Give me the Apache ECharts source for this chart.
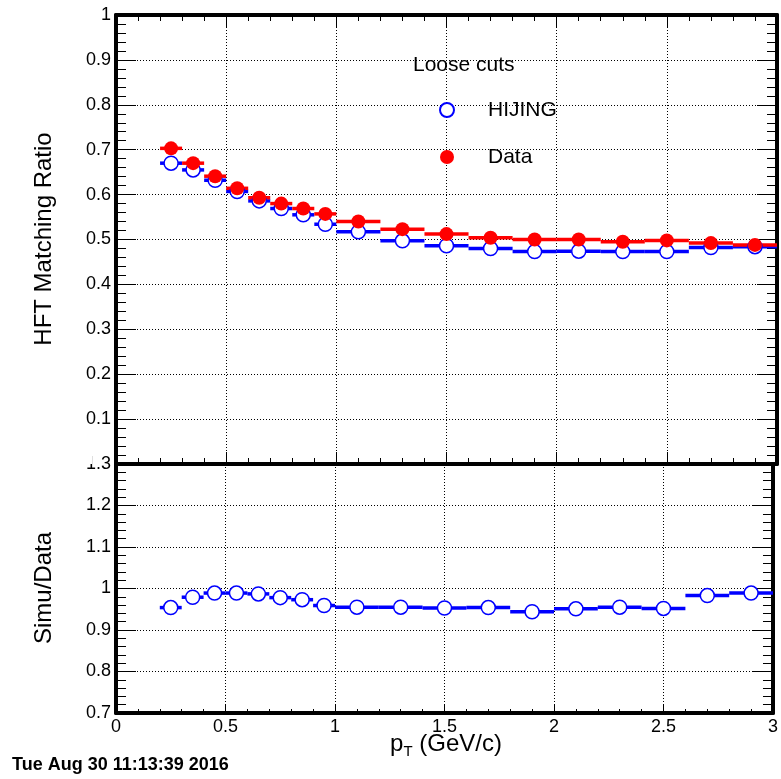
<!DOCTYPE html>
<html>
<head>
<meta charset="utf-8">
<script src="https://cdn.jsdelivr.net/npm/echarts@6/dist/echarts.min.js"></script>
<style>
html,body{margin:0;padding:0;background:#fff;}
#c{width:781px;height:779px;}
</style>
</head>
<body>
<div id="c"></div>
<script>
// ---- data ----
const binLo = [0.2,0.3,0.4,0.5,0.6,0.7,0.8,0.9,1.0,1.2,1.4,1.6,1.8,2.0,2.2,2.4,2.6,2.8];
const binHi = [0.3,0.4,0.5,0.6,0.7,0.8,0.9,1.0,1.2,1.4,1.6,1.8,2.0,2.2,2.4,2.6,2.8,3.0];
const binCenter = [0.25,0.35,0.45,0.55,0.65,0.75,0.85,0.95,1.1,1.3,1.5,1.7,1.9,2.1,2.3,2.5,2.7,2.9];
const hijingVals = [0.670,0.655,0.632,0.607,0.586,0.569,0.555,0.534,0.517,0.497,0.486,0.480,0.473,0.474,0.473,0.473,0.482,0.484];
const dataVals   = [0.703,0.670,0.641,0.614,0.593,0.580,0.569,0.557,0.540,0.523,0.512,0.504,0.500,0.500,0.495,0.498,0.492,0.488];
const ratioVals  = [0.954,0.979,0.989,0.989,0.987,0.978,0.973,0.959,0.955,0.955,0.953,0.954,0.944,0.951,0.955,0.952,0.983,0.989];
const xTickLabels = ['0','0.5','1','1.5','2','2.5','3'];
const legendNames = ['HIJING','Data'];
const legendTitle = 'Loose cuts';
const topYTitle = 'HFT Matching Ratio';
const botYTitle = 'Simu/Data';
const dateText = 'Tue Aug 30 11:13:39 2016';

const FONT = '"Liberation Sans", Arial, Helvetica, sans-serif';
const BLUE = '#0000ff', RED = '#ff0000';

function binData(vals){ return vals.map((v,i)=>[binLo[i], binHi[i], v]); }
function ptData(vals){ return vals.map((v,i)=>[binCenter[i], v]); }

function barSeries(name, xi, yi, vals, color){
  return {
    type:'custom', name:name, xAxisIndex:xi, yAxisIndex:yi,
    data: binData(vals), encode:{x:[0,1], y:2}, silent:true,
    renderItem:function(params, api){
      const s = api.coord([api.value(0), api.value(2)]);
      const e = api.coord([api.value(1), api.value(2)]);
      return {type:'line', shape:{x1:s[0],y1:s[1],x2:e[0],y2:e[1]}, style:{stroke:color, lineWidth:3.5}};
    }
  };
}
function ptSeries(name, xi, yi, vals, filled, color){
  return {
    type:'scatter', name:name, xAxisIndex:xi, yAxisIndex:yi,
    data: ptData(vals), symbol:'circle', symbolSize:14,
    itemStyle: filled ? {color:color, opacity:1} : {color:'#ffffff', borderColor:color, borderWidth:1.5, opacity:1},
    emphasis:{disabled:true}
  };
}

const gridLine = {show:true, lineStyle:{color:'#000', width:1, type:[1,2]}};
const thick = {show:true, onZero:false, lineStyle:{color:'#000', width:4}};
const lblX = function(v){
  const idx = Math.round(v/0.5);
  return xTickLabels[idx] !== undefined ? xTickLabels[idx] : '';
};

const chart = echarts.init(document.getElementById('c'), null, {renderer:'canvas'});
chart.setOption({
  animation:false,
  backgroundColor:'#fff',
  grid:[
    {left:116, top:15, width:661, height:449, containLabel:false},
    {left:116, top:464, width:661, height:249, containLabel:false}
  ],
  xAxis:[
    {gridIndex:0, type:'value', min:0, max:3, interval:0.5, position:'bottom',
     axisLine:thick, axisTick:{show:true, inside:true, length:12, lineStyle:{color:'#000'}},
     minorTick:{show:true, splitNumber:5, length:6, lineStyle:{color:'#000'}},
     axisLabel:{show:false}, splitLine:gridLine},
    {gridIndex:0, type:'value', min:0, max:3, interval:0.5, position:'top',
     axisLine:thick, axisTick:{show:true, inside:true, length:12, lineStyle:{color:'#000'}},
     minorTick:{show:true, splitNumber:5, length:6, lineStyle:{color:'#000'}},
     axisLabel:{show:false}, splitLine:{show:false}},
    {gridIndex:1, type:'value', min:0, max:3, interval:0.5, position:'bottom',
     axisLine:thick, axisTick:{show:true, inside:true, length:8, lineStyle:{color:'#000'}},
     minorTick:{show:true, splitNumber:5, length:4, lineStyle:{color:'#000'}},
     axisLabel:{show:true, color:'#000', fontSize:18, fontFamily:FONT, margin:5, formatter:lblX,
                showMinLabel:true, showMaxLabel:true, hideOverlap:false},
     splitLine:gridLine},
    {gridIndex:1, type:'value', min:0, max:3, interval:0.5, position:'top',
     axisLine:thick, axisTick:{show:false}, axisLabel:{show:false}, splitLine:{show:false}}
  ],
  yAxis:[
    {gridIndex:0, type:'value', min:0, max:1, interval:0.1, position:'left',
     axisLine:thick, axisTick:{show:true, inside:true, length:20, lineStyle:{color:'#000'}},
     minorTick:{show:true, splitNumber:5, length:10, lineStyle:{color:'#000'}},
     axisLabel:{show:true, color:'#000', fontSize:18, fontFamily:FONT, margin:5, showMinLabel:false, showMaxLabel:true, hideOverlap:false},
     splitLine:gridLine},
    {gridIndex:0, type:'value', min:0, max:1, interval:0.1, position:'right',
     axisLine:thick, axisTick:{show:true, inside:true, length:20, lineStyle:{color:'#000'}},
     minorTick:{show:true, splitNumber:5, length:10, lineStyle:{color:'#000'}},
     axisLabel:{show:false}, splitLine:{show:false}},
    {gridIndex:1, type:'value', min:0.7, max:1.3, interval:0.1, position:'left',
     axisLine:thick, axisTick:{show:true, inside:true, length:20, lineStyle:{color:'#000'}},
     minorTick:{show:true, splitNumber:5, length:10, lineStyle:{color:'#000'}},
     axisLabel:{show:true, color:'#000', fontSize:18, fontFamily:FONT, margin:5, showMinLabel:true, showMaxLabel:true, hideOverlap:false},
     splitLine:gridLine},
    {gridIndex:1, type:'value', min:0.7, max:1.3, interval:0.1, position:'right',
     axisLine:thick, axisTick:{show:true, inside:true, length:20, lineStyle:{color:'#000'}},
     minorTick:{show:true, splitNumber:5, length:10, lineStyle:{color:'#000'}},
     axisLabel:{show:false}, splitLine:{show:false}}
  ],
  legend:{
    data: legendNames, orient:'vertical', left:439, top:99, padding:0,
    itemWidth:14, itemHeight:14, itemGap:25, selectedMode:false,
    formatter:function(n){ return '{g|}' + n; },
    textStyle:{color:'#000', fontSize:21, fontFamily:FONT, lineHeight:22, rich:{g:{width:29}}}
  },
  graphic:[
    {type:'rect', left:78, top:448, shape:{width:14, height:16}, style:{fill:'#fff'}, z:100},
    {type:'text', x:413, y:65, style:{text:legendTitle, font:'21px '+FONT, fill:'#000', textAlign:'left', textVerticalAlign:'middle'}, z:100},
    {type:'text', x:44, y:239, rotation:Math.PI/2, style:{text:topYTitle, font:'24px '+FONT, fill:'#000', textAlign:'center', textVerticalAlign:'middle'}, z:100},
    {type:'text', x:44, y:588, rotation:Math.PI/2, style:{text:botYTitle, font:'24px '+FONT, fill:'#000', textAlign:'center', textVerticalAlign:'middle'}, z:100},
    {type:'text', x:446, y:744, style:{
      text:'{p|p}{s|T}{n| (GeV/c)}', textAlign:'center', textVerticalAlign:'middle',
      rich:{p:{fontSize:24, fontFamily:FONT, color:'#000', lineHeight:30, verticalAlign:'middle'},
            s:{fontSize:15, fontFamily:FONT, color:'#000', lineHeight:15, verticalAlign:'bottom'},
            n:{fontSize:24, fontFamily:FONT, color:'#000', lineHeight:30, verticalAlign:'middle'}}
    }, z:100},
    {type:'text', x:12, y:765, style:{text:dateText, font:'bold 18px '+FONT, fill:'#000', textAlign:'left', textVerticalAlign:'middle'}, z:100}
  ],
  series:[
    barSeries('HIJING bins', 0, 0, hijingVals, BLUE),
    ptSeries('HIJING', 0, 0, hijingVals, false, BLUE),
    barSeries('Data bins', 0, 0, dataVals, RED),
    ptSeries('Data', 0, 0, dataVals, true, RED),
    barSeries('Ratio bins', 2, 2, ratioVals, BLUE),
    ptSeries('Ratio', 2, 2, ratioVals, false, BLUE)
  ]
});
</script>
</body>
</html>
